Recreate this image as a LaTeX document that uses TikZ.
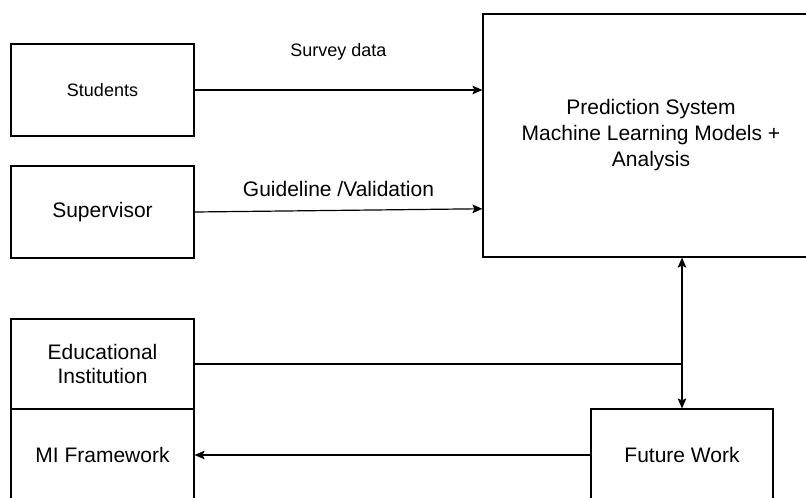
\documentclass[tikz,border=0pt]{standalone}
\usepackage{fontspec}
\setmainfont{Liberation Sans}
\usepackage{tikz}
\usetikzlibrary{positioning,arrows.meta,calc}
\tikzset{blk/.style n args={2}{
    draw, rectangle, inner sep=0pt, align=center,
    minimum width=#1*0.75pt, minimum height=#2*0.75pt,
    font=\fontsize{15.75}{19}\selectfont
    }
}
\tikzset{lbl/.style={inner sep=0pt, font=\fontsize{13.5}{16}\selectfont}}
\begin{document}
\begin{tikzpicture}[x=0.75pt,y=-0.75pt,line width=0.9pt,>={Stealth[length=7.5pt,width=6.5pt,inset=1.5pt]}]
	\useasboundingbox (0,0) rectangle (806,497);
	\node[blk={183}{92},font=\fontsize{13.5}{16}\selectfont] (St) at (102.5,90) {Students};
	\node[blk={183}{92}] (Sv) at (102.5,212) {Supervisor};
	\node[blk={336}{243},font=\fontsize{15.75}{19.5}\selectfont] (PS) at (651,135.5) {Prediction System\\Machine Learning Models +\\Analysis};
	\node[blk={183}{90},font=\fontsize{15.75}{18}\selectfont] (EI) at (102.5,364) {Educational\\Institution};
	\node[blk={183}{92}] (MI) at (102.5,455) {MI Framework};
	\node[blk={182}{92}] (FW) at (682,455) {Future Work};
	\draw [->] (St.east) -- node[lbl,above=22pt]{Survey data} (St.east -| PS.west);
	\draw [->] (Sv.east) -- node[lbl,above=10pt,font=\fontsize{15.75}{19}\selectfont]{Guideline /Validation} ($(PS.south west)!0.2!(PS.north west)$);
	\draw [<->] (PS.south -| FW.north) -- (FW.north);
	\draw (EI.east) -- (EI.east -| FW.north);
	\draw [->] (FW.west) -- (MI.east);
\end{tikzpicture}
\end{document}
